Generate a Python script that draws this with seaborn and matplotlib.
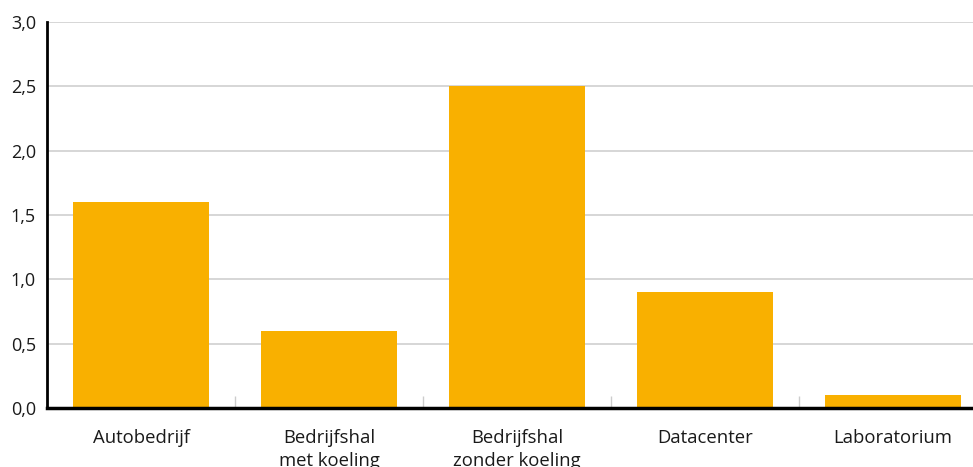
import matplotlib
matplotlib.use("Agg")
import matplotlib.pyplot as plt
from matplotlib.ticker import FixedLocator, FuncFormatter
import seaborn as sns
import pandas as pd

categories = ["Autobedrijf", "Bedrijfshal\nmet koeling", "Bedrijfshal\nzonder koeling",
              "Datacenter", "Laboratorium"]
values = [1.6, 0.6, 2.5, 0.9, 0.1]
y_ticks = [0.0, 0.5, 1.0, 1.5, 2.0, 2.5, 3.0]

df = pd.DataFrame({"categorie": categories, "waarde": values})

sns.set_theme(style="white")
plt.rcParams["font.family"] = ["Open Sans", "DejaVu Sans"]

W, H = 973, 467
fig = plt.figure(figsize=(W / 100, H / 100), dpi=100)
ax = fig.add_axes([47 / W, 59 / H, (W - 47) / W, (408 - 22) / H])

sns.barplot(data=df, x="categorie", y="waarde", color="#F9B000", width=0.72,
            saturation=1, linewidth=0, edgecolor="none", ax=ax, zorder=3)

ax.set_ylim(0, 3.0)
ax.set_xlim(-0.5, 4.426)
ax.set_yticks(y_ticks)
ax.yaxis.set_major_formatter(FuncFormatter(lambda v, p: f"{v:.1f}".replace(".", ",")))
ax.yaxis.grid(True, color="#d0d0d0", linewidth=1.2, zorder=0)
ax.xaxis.grid(False)
ax.set_xlabel("")
ax.set_ylabel("")

# category separators as small ticks rising from the baseline
ax.xaxis.set_minor_locator(FixedLocator([0.5, 1.5, 2.5, 3.5]))
ax.tick_params(axis="x", which="minor", direction="in", length=9, width=1,
               color="#cccccc", bottom=True)
ax.tick_params(axis="x", which="major", length=0, pad=15, labelsize=13.3,
               labelcolor="#1a1a1a")
ax.tick_params(axis="y", which="major", length=0, pad=8, labelsize=13,
               labelcolor="#1a1a1a")
for lbl in ax.get_xticklabels():
    lbl.set_linespacing(1.35)

for side in ["top", "right"]:
    ax.spines[side].set_visible(False)
ax.spines["left"].set_color("black")
ax.spines["left"].set_linewidth(2)
ax.spines["bottom"].set_color("black")
ax.spines["bottom"].set_linewidth(2.5)
ax.spines["left"].set_zorder(5)
ax.spines["bottom"].set_zorder(5)

fig.savefig("out.png", dpi=100)
